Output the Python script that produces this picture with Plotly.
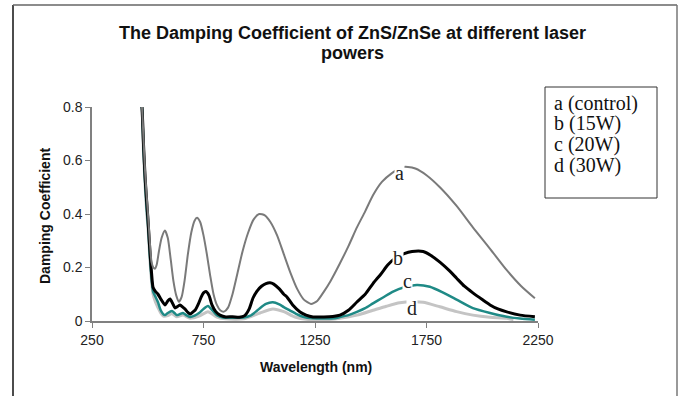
import plotly.graph_objects as go

# ---- data ----
wl_a = [462,474,481,488,495,501,509,517,525,532,540,550,562,577,590,603,615,628,640,652,665,680,695,710,721,735,750,765,780,795,810,825,842,860,880,900,925,950,975,1000,1025,1050,1080,1110,1140,1170,1200,1232,1260,1290,1320,1362,1400,1438,1475,1510,1550,1595,1640,1667,1700,1750,1810,1885,1958,2035,2110,2175,2236]
dc_a = [0.88,0.80,0.68,0.56,0.47,0.40,0.30,0.22,0.20,0.195,0.21,0.26,0.31,0.338,0.31,0.23,0.15,0.095,0.072,0.09,0.15,0.25,0.33,0.375,0.386,0.37,0.32,0.25,0.17,0.10,0.06,0.04,0.035,0.05,0.10,0.17,0.26,0.33,0.38,0.40,0.395,0.37,0.32,0.25,0.18,0.12,0.08,0.064,0.075,0.11,0.15,0.216,0.28,0.35,0.41,0.47,0.52,0.553,0.575,0.576,0.57,0.545,0.50,0.43,0.35,0.27,0.19,0.13,0.085]

wl_b = [462,474,481,488,495,501,509,517,524,535,546,560,577,590,600,612,622,635,645,657,667,680,690,700,712,725,740,750,761,775,788,805,824,850,880,910,935,955,972,990,1010,1030,1048,1065,1090,1110,1124,1150,1183,1210,1241,1290,1330,1362,1400,1438,1475,1510,1545,1577,1610,1650,1685,1735,1770,1810,1850,1885,1920,1958,2000,2035,2070,2110,2170,2236]
dc_b = [0.88,0.80,0.66,0.54,0.45,0.38,0.27,0.18,0.125,0.11,0.10,0.08,0.06,0.075,0.082,0.065,0.049,0.055,0.06,0.052,0.045,0.032,0.026,0.032,0.04,0.06,0.09,0.105,0.11,0.095,0.06,0.035,0.022,0.015,0.016,0.014,0.02,0.045,0.086,0.112,0.13,0.14,0.143,0.138,0.12,0.10,0.09,0.06,0.034,0.022,0.015,0.015,0.017,0.022,0.04,0.071,0.10,0.14,0.175,0.21,0.235,0.252,0.26,0.26,0.245,0.22,0.19,0.16,0.13,0.105,0.08,0.06,0.045,0.034,0.022,0.016]

wl_c = [462,474,481,488,495,501,509,517,524,535,546,558,570,577,590,608,620,630,645,658,672,690,710,730,750,770,790,810,837,880,930,960,985,1003,1030,1061,1090,1110,1137,1165,1196,1240,1290,1340,1362,1400,1438,1475,1510,1555,1600,1650,1707,1765,1820,1885,1958,2035,2110,2170,2236]
dc_c = [0.88,0.80,0.64,0.52,0.42,0.36,0.25,0.16,0.11,0.09,0.07,0.04,0.025,0.022,0.03,0.037,0.03,0.022,0.026,0.03,0.022,0.015,0.02,0.03,0.045,0.056,0.04,0.022,0.013,0.012,0.013,0.02,0.035,0.048,0.064,0.07,0.062,0.052,0.04,0.027,0.016,0.01,0.009,0.01,0.015,0.022,0.034,0.048,0.066,0.088,0.11,0.126,0.135,0.128,0.108,0.08,0.048,0.03,0.016,0.009,0.005]

wl_d = [462,474,481,488,495,501,509,517,524,535,546,558,570,590,608,630,658,690,730,770,810,850,930,1003,1061,1110,1160,1220,1300,1362,1438,1510,1570,1630,1690,1735,1810,1885,1958,2035,2110,2140]
dc_d = [0.88,0.80,0.63,0.51,0.41,0.35,0.24,0.15,0.10,0.07,0.05,0.03,0.018,0.02,0.028,0.016,0.022,0.01,0.018,0.035,0.015,0.008,0.008,0.03,0.045,0.035,0.015,0.006,0.005,0.01,0.022,0.04,0.055,0.068,0.072,0.07,0.053,0.035,0.022,0.014,0.01,0.005]

curve_labels = ["a", "b", "c", "d"]
label_wl = [1627, 1622, 1667, 1685]
label_val = [0.554, 0.235, 0.15, 0.048]

legend_lines = ["a (control)", "b (15W)", "c (20W)", "d (30W)"]

x_ticks = [250, 750, 1250, 1750, 2250]
y_ticks = [0, 0.2, 0.4, 0.6, 0.8]
y_ticktext = ["0", "0.2", "0.4", "0.6", "0.8"]

title_lines = ["The Damping Coefficient of ZnS/ZnSe at different laser", "powers"]

# ---- geometry helpers (pixel -> paper) ----
L, R, T, B = 92, 538, 107, 321
W, H = 681, 396
def px(x):
    return (x - L) / (R - L)
def py(y):
    return (B - y) / (B - T)

fig = go.Figure()
series = [
    (wl_d, dc_d, "#c4c4c4", 3),
    (wl_c, dc_c, "#1f8a86", 2.5),
    (wl_b, dc_b, "#000000", 3),
    (wl_a, dc_a, "#7a7a7a", 2),
]
for xs, ys, col, w in series:
    fig.add_trace(go.Scatter(x=xs, y=ys, mode="lines",
                             line=dict(color=col, width=w, shape="spline", smoothing=0.6),
                             showlegend=False, hoverinfo="skip"))

ann = []
for t, xv, yv in zip(curve_labels, label_wl, label_val):
    ann.append(dict(x=xv, y=yv, xref="x", yref="y", text=t, showarrow=False,
                    font=dict(family="Liberation Serif", size=20, color="#222"),
                    bgcolor="white", borderpad=0))

leg_y = [103, 123, 144, 165]
for t, yy in zip(legend_lines, leg_y):
    ann.append(dict(x=px(552), y=py(yy), xref="paper", yref="paper", text=t,
                    showarrow=False, xanchor="left", yanchor="middle",
                    font=dict(family="Liberation Serif", size=20, color="#111")))

for t, yy in zip(title_lines, [33, 53]):
    ann.append(dict(x=px(352), y=py(yy), xref="paper", yref="paper", text="<b>" + t + "</b>",
                    showarrow=False, xanchor="center", yanchor="middle",
                    font=dict(family="Liberation Sans", size=18, color="#111")))

ann.append(dict(x=px(45), y=py(216), xref="paper", yref="paper",
                text="<b>Damping Coefficient</b>", showarrow=False, textangle=-90,
                xanchor="center", yanchor="middle",
                font=dict(family="Liberation Sans", size=14, color="#111")))
ann.append(dict(x=px(316), y=py(367), xref="paper", yref="paper",
                text="<b>Wavelength (nm)</b>", showarrow=False,
                xanchor="center", yanchor="middle",
                font=dict(family="Liberation Sans", size=14, color="#111")))

shapes = [
    dict(type="line", xref="paper", yref="paper", x0=px(13), x1=px(13), y0=py(400), y1=py(5),
         line=dict(color="#111", width=1.5)),
    dict(type="line", xref="paper", yref="paper", x0=px(13), x1=px(677), y0=py(5), y1=py(5),
         line=dict(color="#666", width=1.5)),
    dict(type="line", xref="paper", yref="paper", x0=px(677), x1=px(677), y0=py(5), y1=py(400),
         line=dict(color="#777", width=1.5)),
    dict(type="rect", xref="paper", yref="paper", x0=px(545), x1=px(657), y0=py(198), y1=py(87),
         line=dict(color="#333", width=1), fillcolor="rgba(0,0,0,0)"),
]

fig.update_layout(
    width=W, height=H,
    margin=dict(l=L, r=W - R, t=T, b=H - B),
    paper_bgcolor="white", plot_bgcolor="white",
    annotations=ann, shapes=shapes,
    xaxis=dict(range=[250, 2250], tickvals=x_ticks, showgrid=False, zeroline=False,
               showline=True, linecolor="#808080", linewidth=1.5,
               ticks="outside", ticklen=5, tickcolor="#808080",
               tickfont=dict(family="Liberation Sans", size=14, color="#222")),
    yaxis=dict(range=[0, 0.8], tickvals=y_ticks, ticktext=y_ticktext, showgrid=False,
               zeroline=False, showline=True, linecolor="#808080", linewidth=1.5,
               ticks="outside", ticklen=5, tickcolor="#808080",
               tickfont=dict(family="Liberation Sans", size=14, color="#222")),
)

fig.write_html("out.html")
